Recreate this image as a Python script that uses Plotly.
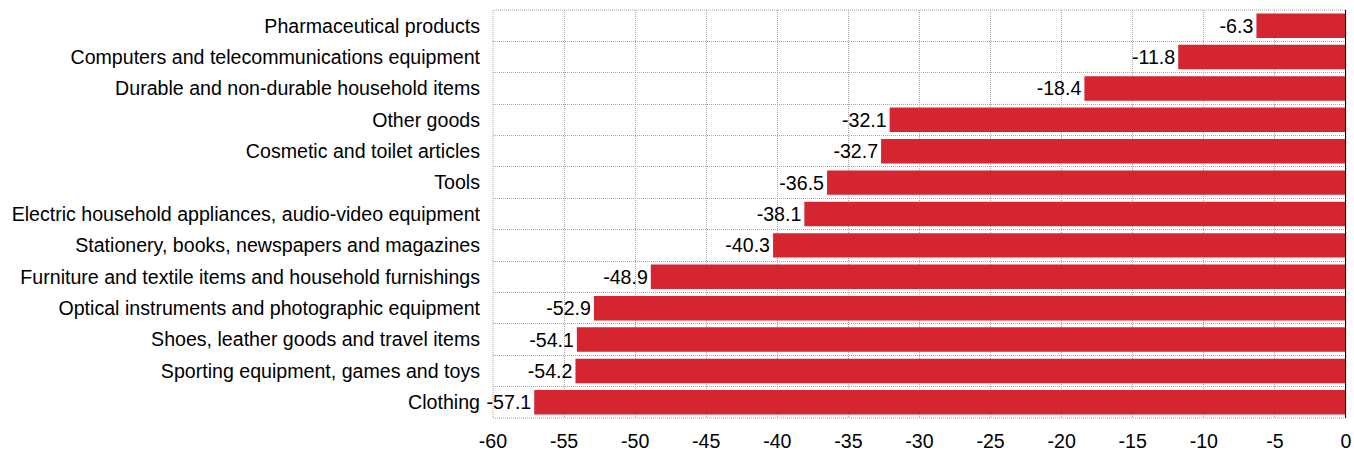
import plotly.graph_objects as go

categories = [
    "Clothing",
    "Sporting equipment, games and toys",
    "Shoes, leather goods and travel items",
    "Optical instruments and photographic equipment",
    "Furniture and textile items and household furnishings",
    "Stationery, books, newspapers and magazines",
    "Electric household appliances, audio-video equipment",
    "Tools",
    "Cosmetic and toilet articles",
    "Other goods",
    "Durable and non-durable household items",
    "Computers and telecommunications equipment",
    "Pharmaceutical products",
]
values = [-57.1, -54.2, -54.1, -52.9, -48.9, -40.3, -38.1, -36.5, -32.7, -32.1, -18.4, -11.8, -6.3]
x_ticks = [-60, -55, -50, -45, -40, -35, -30, -25, -20, -15, -10, -5, 0]

FONT = "Liberation Sans Narrow, Arial Narrow, Liberation Sans, Arial, sans-serif"
FS = 19.6
GRID = "#a8a8a8"

fig = go.Figure(go.Bar(
    y=categories,
    x=values,
    orientation="h",
    marker=dict(color="#d42531", line=dict(width=0)),
    text=[f"{v:.1f}" for v in values],
    textposition="outside",
    textfont=dict(family=FONT, size=FS, color="#000000"),
    cliponaxis=False,
))

fig.update_layout(
    width=1354, height=459,
    margin=dict(l=493, r=8, t=10, b=41, autoexpand=False),
    paper_bgcolor="white", plot_bgcolor="white",
    bargap=0.22,
    showlegend=False,
    font=dict(family=FONT, size=FS, color="#000000"),
    xaxis=dict(
        range=[-60, 0], tickvals=x_ticks, ticktext=[str(t) for t in x_ticks],
        showgrid=True, gridcolor=GRID, griddash="1px,1px", gridwidth=1,
        zeroline=False, showline=False, ticks="", ticklabelstandoff=9,
        tickfont=dict(family=FONT, size=FS), automargin=False,
    ),
    yaxis=dict(
        type="category", categoryorder="array", categoryarray=categories,
        tickson="boundaries", showgrid=True, gridcolor=GRID, griddash="1px,1px", gridwidth=1,
        zeroline=False, showline=False, ticks="", ticklabelstandoff=12,
        tickfont=dict(family=FONT, size=FS), automargin=False,
        range=[-0.5, 12.5],
    ),
    shapes=[
        dict(type="rect", xref="paper", yref="paper", x0=0, x1=1, y0=0, y1=1,
             line=dict(color=GRID, width=1, dash="1px,1px"), layer="below"),
        dict(type="line", xref="x", yref="paper", x0=0, x1=0, y0=0, y1=1,
             line=dict(color="#000000", width=2), layer="above"),
    ],
)

fig.write_html("out.html")
